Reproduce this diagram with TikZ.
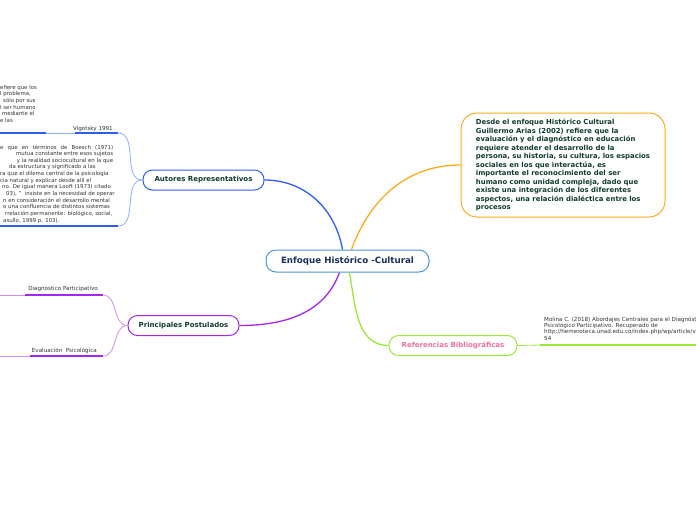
\documentclass[tikz,border=0pt]{standalone}
\usepackage{fontspec}
\setmainfont{DejaVu Sans}
\definecolor{rootline}{HTML}{4C96D7}
\definecolor{roottext}{HTML}{1B2F5E}
\definecolor{textgreen}{HTML}{0E3B2C}
\definecolor{autorblue}{HTML}{2F5DF2}
\definecolor{autorlight}{HTML}{8CAEFF}
\definecolor{ariasorange}{HTML}{FFAA1D}
\definecolor{postpurple}{HTML}{A526EE}
\definecolor{postlight}{HTML}{CB8DF5}
\definecolor{refgreen}{HTML}{9AE83A}
\definecolor{refpink}{HTML}{F0729E}
\definecolor{leafgray}{HTML}{333333}
\begin{document}
\begin{tikzpicture}[
		x=1pt, y=-1pt,
		every node/.style={inner sep=0pt},
		topic/.style={draw, fill=white, rounded corners=9.5pt, line width=1pt, minimum height=20pt,
			font=\fontsize{7}{8}\selectfont\bfseries, text=textgreen},
		leaf/.style={font=\fontsize{5.6}{6.5}\selectfont, text=leafgray},
		note/.style={leaf, align=left, font=\fontsize{5.4}{6.65}\selectfont},
		branch/.style={line width=1.3pt},
		twig/.style={line width=0.8pt},
		underline/.style={line width=1.6pt}
	]
	\useasboundingbox (0,0) rectangle (696,520);
	\clip (0,0) rectangle (696,520);

	\node[topic, draw=rootline, text=roottext, minimum width=163pt, minimum height=22pt, rounded corners=10pt,
		font=\fontsize{8.7}{10}\selectfont\bfseries] (root) at (347.5,261) {Enfoque Histórico -Cultural};
	\node[topic, draw=autorblue, minimum width=121pt] (autores) at (203.5,180) {Autores Representativos};
	\node[topic, draw=postpurple, minimum width=111pt] (postulados) at (183.5,325.5) {Principales Postulados};
	\node[topic, draw=refgreen, text=refpink, minimum width=128pt] (referencias) at (453,345.5) {Referencias Bibliográficas};
	\node[draw=ariasorange, line width=1pt, rounded corners=16pt, minimum width=204pt, minimum height=104pt,
		align=left, text=textgreen, font=\fontsize{6.9}{8.5}\selectfont\bfseries] (arias) at (563,165)
		{Desde el enfoque Histórico Cultural\\
		Guillermo Arias (2002) refiere que la\\
		evaluación y el diagnóstico en educación\\
		requiere atender el desarrollo de la\\
		persona, su historia, su cultura, los espacios\\
		sociales en los que interactúa, es\\
		importante el reconocimiento del ser\\
		humano como unidad compleja, dado que\\
		existe una integración de los diferentes\\
		aspectos, una relación dialéctica entre los\\
		procesos};

	\draw[branch, autorblue] ([xshift=-5pt]root.north) to[out=100, in=0] (autores.east);
	\draw[branch, ariasorange] ([xshift=4pt]root.north) to[out=70, in=180] (arias.west);
	\draw[branch, postpurple] ([xshift=-8pt]root.south) to[out=-110, in=0] (postulados.east);
	\draw[branch, refgreen] ([xshift=2pt]root.south) to[out=-80, in=180] (referencias.west);

	\node[leaf, anchor=base east] (vigotsky) at (113,130) {Vigotsky 1991};
	\coordinate (vig r) at (118,133);
	\coordinate (vig l) at (75,133);
	\node[note, anchor=north west] (vigtext) at (0,85)
		{efiere que los\\l problema,\\\hspace*{3pt}sólo por sus\\l ser humano\\\hspace*{2pt}mediante el\\e las};
	\coordinate (vtxt r) at (46,133);
	\coordinate (vtxt l) at (-5,133);
	\node[note, anchor=north west] (boesch) at (0,144.5)
		{\makebox[113pt][s]{e que en términos de Boesch (1971)}\\
		\makebox[113pt][r]{mutua constante entre esos sujetos}\\
		\makebox[113pt][r]{y la realidad sociocultural en la que}\\
		\hspace*{9pt}da estructura y significado a las\\
		ra que el dilema central de la psicología\\
		cia natural y explicar desde allí el\\
		\hspace*{2pt}no. De igual manera Looft (1973) citado\\
		\hspace*{6pt}03), "\ \ insiste en la necesidad de operar\\
		\hspace*{3pt}n en consideración el desarrollo mental\\
		\hspace*{3pt}o una confluencia de distintos sistemas\\
		\hspace*{5pt}rrelación permanente: biológico, social,\\
		\hspace*{3pt}asullo, 1999 p. 103).};
	\coordinate (boe r) at (118,226);
	\coordinate (boe l) at (-5,226);

	\draw[underline, autorblue] (vig l) -- (vig r);
	\draw[twig, autorlight] (vig l) -- (vtxt r);
	\draw[underline, autorblue] (vtxt l) -- (vtxt r);
	\draw[underline, autorblue] (boe l) -- (boe r);
	\draw[twig, autorlight] (autores.west) to[out=180, in=0] (vig r);
	\draw[twig, autorlight] (autores.west) to[out=180, in=0] (boe r);

	\node[leaf, anchor=base east] (diagnostico) at (98,290) {Diagnostico Participativo};
	\coordinate (diag r) at (103,295);
	\coordinate (diag l) at (25,295);
	\coordinate (diag end) at (-5,295);
	\node[leaf, anchor=base east] (evaluacion) at (97,352) {Evaluación\ \ Psicológica};
	\coordinate (eval r) at (103,356);
	\coordinate (eval l) at (30,356);
	\coordinate (eval end) at (-5,356);

	\draw[underline, postpurple] (diag l) -- (diag r);
	\draw[twig, postlight] (diag l) -- (diag end);
	\draw[underline, postpurple] (eval l) -- (eval r);
	\draw[twig, postlight] (eval l) -- (eval end);
	\draw[twig, postlight] (postulados.west) to[out=180, in=0] (diag r);
	\draw[twig, postlight] (postulados.west) to[out=180, in=0] (eval r);

	\node[note, anchor=north west, font=\fontsize{5.6}{6.4}\selectfont] (molina) at (544,316.5)
		{Molina C. (2018) Abordajes Centrales para el Diagnóstico\\
		Psicológico Participativo. Recuperado de\\
		http://hemeroteca.unad.edu.co/index.php/wp/article/view/\\
		54};
	\coordinate (mol l) at (540,345);
	\coordinate (mol r) at (700,345);
	\draw[underline, refgreen] (mol l) -- (mol r);
	\draw[twig, refgreen] (referencias.east) -- (mol l);
\end{tikzpicture}
\end{document}
